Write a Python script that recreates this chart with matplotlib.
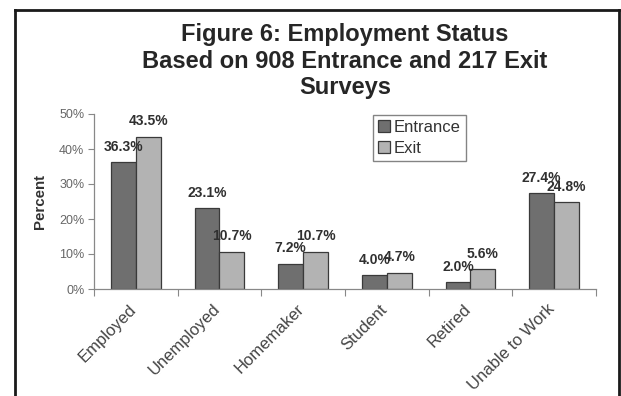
import matplotlib
matplotlib.use("Agg")
import matplotlib.pyplot as plt
import matplotlib.transforms as mtransforms
from matplotlib.lines import Line2D
import numpy as np

plt.rcParams['font.family'] = ['Liberation Sans', 'DejaVu Sans']

categories = ["Employed", "Unemployed", "Homemaker", "Student", "Retired", "Unable to Work"]
entrance = [36.3, 23.1, 7.2, 4.0, 2.0, 27.4]
exit_ = [43.5, 10.7, 10.7, 4.7, 5.6, 24.8]
series_names = ["Entrance", "Exit"]
yticks = [0, 10, 20, 30, 40, 50]
title = "Figure 6: Employment Status\nBased on 908 Entrance and 217 Exit\nSurveys"

W, H = 621, 396
fig = plt.figure(figsize=(W / 100, H / 100), dpi=100)
fig.patch.set_facecolor("white")

ax = fig.add_axes([94 / W, 1 - 289 / H, (596 - 94) / W, (289 - 114) / H])
ax.set_facecolor("none")

x = np.arange(len(categories))
bw = 0.298
c_ent = "#6f6f6f"
c_exit = "#b3b3b3"
edge = "#3a3a3a"
b1 = ax.bar(x - bw / 2, entrance, bw, color=c_ent, edgecolor=edge, linewidth=0.9, label=series_names[0])
b2 = ax.bar(x + bw / 2, exit_, bw, color=c_exit, edgecolor=edge, linewidth=0.9, label=series_names[1])

for bars, vals in ((b1, entrance), (b2, exit_)):
    for rect, v in zip(bars, vals):
        ax.annotate(f"{v:.1f}%", (rect.get_x() + rect.get_width() / 2, v),
                    xytext=(0, 6), textcoords="offset points", ha="center", va="bottom",
                    fontsize=10, fontweight="bold", color="#303030")

ax.set_xlim(-0.5, len(categories) - 0.5)
ax.set_ylim(0, 50)
ax.set_yticks(yticks)
ax.set_yticklabels([f"{t}%" for t in yticks], fontsize=9, color="#666666")
ax.tick_params(axis="y", length=4, width=0.8, color="#888888", pad=3)

ax.set_xticks(x)
ax.set_xticklabels(categories, rotation=45, ha="right", va="top", rotation_mode="anchor",
                   fontsize=12, color="#444444")
ax.tick_params(axis="x", which="major", length=0, pad=9)
offset = mtransforms.ScaledTranslation(-7 / 100, 0, fig.dpi_scale_trans)
for lbl in ax.get_xticklabels():
    lbl.set_transform(lbl.get_transform() + offset)
ax.set_xticks(np.arange(-0.5, len(categories), 1.0), minor=True)
ax.tick_params(axis="x", which="minor", length=5, width=0.8, color="#888888")

for s in ("top", "right"):
    ax.spines[s].set_visible(False)
for s in ("left", "bottom"):
    ax.spines[s].set_color("#888888")
    ax.spines[s].set_linewidth(0.9)

ax.set_ylabel("Percent", fontsize=10.8, fontweight="bold", color="#333333")
ax.yaxis.set_label_coords((47 - 94) / (596 - 94), 0.5)

leg = ax.legend(loc="upper left", bbox_to_anchor=(373 / W, 1 - 115 / H), bbox_transform=fig.transFigure,
                fontsize=12, frameon=True, fancybox=False, borderpad=0.3, handlelength=0.7,
                handleheight=0.7, handletextpad=0.25, labelspacing=0.35, borderaxespad=0)
leg.get_frame().set_edgecolor("#666666")
leg.get_frame().set_linewidth(1.0)
for t in leg.get_texts():
    t.set_color("#333333")

fig.text(345 / W, 1 - 61 / H, title, ha="center", va="center", fontsize=17, fontweight="bold",
         color="#262626", linespacing=1.2)

# outer frame
lw = 2.0
fig.add_artist(Line2D([15 / W, 15 / W], [0, 1 - 10 / H], color="#1a1a1a", linewidth=lw, transform=fig.transFigure))
fig.add_artist(Line2D([15 / W, 619 / W], [1 - 10 / H, 1 - 10 / H], color="#1a1a1a", linewidth=lw, transform=fig.transFigure))
fig.add_artist(Line2D([619 / W, 619 / W], [0, 1 - 10 / H], color="#1a1a1a", linewidth=lw, transform=fig.transFigure))

fig.savefig("out.png", dpi=100)
